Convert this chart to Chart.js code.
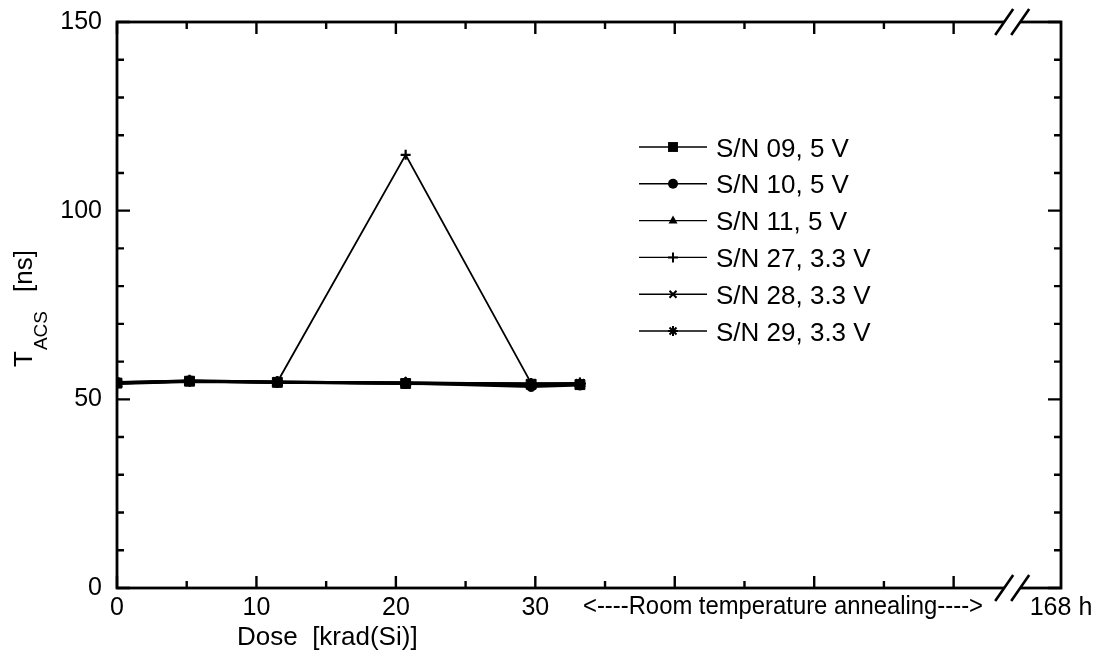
<!DOCTYPE html>
<html>
<head>
<meta charset="utf-8">
<script src="https://cdn.jsdelivr.net/npm/chart.js@4/dist/chart.umd.min.js"></script>
<style>
  html, body { margin: 0; padding: 0; background: #fff; }
</style>
</head>
<body>
<canvas id="c" width="1098" height="662"></canvas>
<script>
// dose points [krad(Si)]
const doses = [0, 5.2, 11.5, 20.7, 29.7, 33.2];

// T_ACS [ns] per device
const sn09 = [54.3, 54.8, 54.5, 54.2, 54.0, 53.9];
const sn10 = [54.5, 54.9, 54.6, 54.3, 53.4, 53.8];
const sn11 = [54.2, 54.7, 54.5, 54.4, 54.0, 54.1];
const sn27 = [54.4, 54.9, 54.6, 114.8, 54.3, 54.2];
const sn28 = [54.3, 54.8, 54.5, 54.3, 54.1, 54.0];
const sn29 = [54.4, 54.9, 54.6, 54.3, 54.0, 54.2];

const seriesLabels = ['S/N 09, 5 V', 'S/N 10, 5 V', 'S/N 11, 5 V', 'S/N 27, 3.3 V', 'S/N 28, 3.3 V', 'S/N 29, 3.3 V'];
const seriesValues = [sn09, sn10, sn11, sn27, sn28, sn29];
const seriesMarkers = ['rect', 'circle', 'triangle', 'cross', 'crossRot', 'star'];

const yTicks = [0, 50, 100, 150];
const yMinorTicks = [10, 20, 30, 40, 60, 70, 80, 90, 110, 120, 130, 140];
const xMajorTicks = [0, 10, 20, 30, 40, 50, 60];
const xMinorTicks = [5, 15, 25, 35, 45, 55];
const xLabelTicks = [0, 10, 20, 30, 67.7];
const xTickLabels = ['0', '10', '20', '30', '168 h'];
const xMax = 67.7;
const breakAt = 64.2;

const FONT = '"Liberation Sans", Arial, Helvetica, sans-serif';

function markerRadius(style) {
  if (style === 'rect') return 7;
  if (style === 'circle') return 5;
  if (style === 'triangle') return 6;
  if (style === 'star') return 6;
  return 5;
}

const datasets = seriesValues.map((vals, i) => ({
  label: seriesLabels[i],
  data: vals.map((v, j) => ({ x: doses[j], y: v })),
  borderColor: '#000',
  backgroundColor: '#000',
  borderWidth: i === 3 ? 1.8 : 2.8,
  pointStyle: seriesMarkers[i],
  pointRadius: markerRadius(seriesMarkers[i]),
  pointBorderWidth: seriesMarkers[i] === 'cross' || seriesMarkers[i] === 'crossRot' || seriesMarkers[i] === 'star' ? 2.2 : 1,
  pointBackgroundColor: '#000',
  pointBorderColor: '#000',
  tension: 0,
  fill: false
}));

// hand-drawn legend marker, same look as the chart's points
function drawMarker(ctx, style, x, y, r) {
  ctx.save();
  ctx.fillStyle = '#000';
  ctx.strokeStyle = '#000';
  ctx.lineWidth = 2;
  ctx.beginPath();
  if (style === 'rect') {
    const s = r * Math.SQRT1_2;
    ctx.rect(x - s, y - s, 2 * s, 2 * s);
    ctx.fill();
  } else if (style === 'circle') {
    ctx.arc(x, y, r, 0, Math.PI * 2);
    ctx.fill();
  } else if (style === 'triangle') {
    ctx.moveTo(x, y - r);
    ctx.lineTo(x + r * 0.9, y + r * 0.6);
    ctx.lineTo(x - r * 0.9, y + r * 0.6);
    ctx.closePath();
    ctx.fill();
  } else if (style === 'cross') {
    ctx.moveTo(x - r, y); ctx.lineTo(x + r, y);
    ctx.moveTo(x, y - r); ctx.lineTo(x, y + r);
    ctx.stroke();
  } else if (style === 'crossRot') {
    const d = r * 0.7;
    ctx.moveTo(x - d, y - d); ctx.lineTo(x + d, y + d);
    ctx.moveTo(x - d, y + d); ctx.lineTo(x + d, y - d);
    ctx.stroke();
  } else {
    const d = r * 0.7;
    ctx.moveTo(x - r, y); ctx.lineTo(x + r, y);
    ctx.moveTo(x, y - r); ctx.lineTo(x, y + r);
    ctx.moveTo(x - d, y - d); ctx.lineTo(x + d, y + d);
    ctx.moveTo(x - d, y + d); ctx.lineTo(x + d, y - d);
    ctx.stroke();
  }
  ctx.restore();
}

const framePlugin = {
  id: 'frame',
  afterDraw(chart) {
    const ctx = chart.ctx;
    const a = chart.chartArea;
    const xs = chart.scales.x, ys = chart.scales.y;
    ctx.save();
    ctx.strokeStyle = '#000';
    ctx.fillStyle = '#000';
    ctx.lineCap = 'butt';

    // box
    ctx.lineWidth = 2.8;
    ctx.strokeRect(a.left, a.top, a.right - a.left, a.bottom - a.top);

    // inward ticks
    ctx.lineWidth = 2.4;
    ctx.beginPath();
    yTicks.forEach(v => {
      const p = ys.getPixelForValue(v);
      ctx.moveTo(a.left, p); ctx.lineTo(a.left + 13, p);
      ctx.moveTo(a.right, p); ctx.lineTo(a.right - 13, p);
    });
    yMinorTicks.forEach(v => {
      const p = ys.getPixelForValue(v);
      ctx.moveTo(a.left, p); ctx.lineTo(a.left + 7, p);
      ctx.moveTo(a.right, p); ctx.lineTo(a.right - 7, p);
    });
    xMajorTicks.forEach(v => {
      const p = xs.getPixelForValue(v);
      ctx.moveTo(p, a.bottom); ctx.lineTo(p, a.bottom - 12);
      ctx.moveTo(p, a.top); ctx.lineTo(p, a.top + 12);
    });
    xMinorTicks.forEach(v => {
      const p = xs.getPixelForValue(v);
      ctx.moveTo(p, a.bottom); ctx.lineTo(p, a.bottom - 7);
      ctx.moveTo(p, a.top); ctx.lineTo(p, a.top + 7);
    });
    ctx.stroke();

    // axis break marks
    const bx = xs.getPixelForValue(breakAt);
    [a.top, a.bottom].forEach(yy => {
      ctx.strokeStyle = '#fff';
      ctx.lineWidth = 4;
      ctx.beginPath();
      ctx.moveTo(bx - 8, yy); ctx.lineTo(bx + 8, yy);
      ctx.stroke();
      ctx.strokeStyle = '#000';
      ctx.lineWidth = 2.6;
      ctx.beginPath();
      [-8, 8].forEach(off => {
        ctx.moveTo(bx + off - 9, yy + 13);
        ctx.lineTo(bx + off + 9, yy - 13);
      });
      ctx.stroke();
    });

    // legend
    const rowY = 147, rowGap = 36.8;
    chart.data.datasets.forEach((ds, i) => {
      const y = rowY + i * rowGap;
      ctx.strokeStyle = '#000';
      ctx.lineWidth = 1.4;
      ctx.beginPath();
      ctx.moveTo(639, y); ctx.lineTo(707, y);
      ctx.stroke();
      drawMarker(ctx, seriesMarkers[i], 673, y, seriesMarkers[i] === 'rect' ? 7 : 5);
      ctx.font = '26px ' + FONT;
      ctx.textAlign = 'left';
      ctx.textBaseline = 'alphabetic';
      ctx.fillText(ds.label, 716, y + 9.5);
    });

    // x axis title and annealing note
    ctx.font = '26px ' + FONT;
    ctx.textAlign = 'left';
    ctx.fillText('Dose  [krad(Si)]', 237, 645);
    ctx.font = '26px ' + FONT;
    ctx.fillText('<----Room temperature annealing---->', 583, 614, 400);

    // y axis title, rotated with subscript
    ctx.translate(32, 367);
    ctx.rotate(-Math.PI / 2);
    ctx.font = '26px ' + FONT;
    ctx.fillText('T', 0, 0);
    const tw = ctx.measureText('T').width;
    ctx.font = '19px ' + FONT;
    ctx.fillText('ACS', tw + 1, 15);
    ctx.font = '26px ' + FONT;
    ctx.fillText('[ns]', 75, 0);
    ctx.restore();
  }
};

new Chart(document.getElementById('c'), {
  type: 'line',
  data: { datasets },
  options: {
    responsive: false,
    animation: false,
    devicePixelRatio: 1,
    layout: { padding: { top: 13, right: 37, left: 0, bottom: 0 } },
    plugins: { legend: { display: false }, tooltip: { enabled: false } },
    scales: {
      x: {
        type: 'linear',
        min: 0,
        max: xMax,
        grid: { display: false },
        border: { display: false },
        afterBuildTicks(scale) { scale.ticks = xLabelTicks.map(v => ({ value: v })); },
        afterFit(scale) { scale.height = 74; },
        ticks: {
          autoSkip: false,
          maxRotation: 0,
          padding: -3,
          color: '#000',
          font: { family: FONT, size: 25 },
          callback(value) {
            const i = xLabelTicks.indexOf(value);
            return i >= 0 ? xTickLabels[i] : '';
          }
        }
      },
      y: {
        type: 'linear',
        min: 0,
        max: 150,
        grid: { display: false },
        border: { display: false },
        afterBuildTicks(scale) { scale.ticks = yTicks.map(v => ({ value: v })); },
        afterFit(scale) { scale.width = 117; },
        ticks: {
          padding: 7,
          color: '#000',
          font: { family: FONT, size: 25 }
        }
      }
    }
  },
  plugins: [framePlugin]
});
</script>
</body>
</html>
